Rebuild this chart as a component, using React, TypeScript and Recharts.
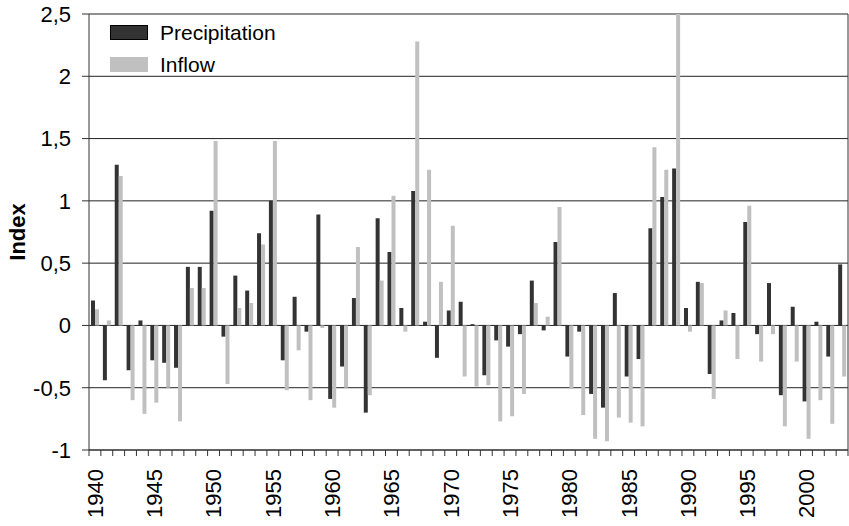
import { Bar, BarChart, CartesianGrid, Legend, XAxis, YAxis } from "recharts";

const WIDTH = 849;
const HEIGHT = 526;
const LEFT = 89;
const RIGHT = 1;
const FONT = '"Liberation Sans", Arial, sans-serif';

const YEARS = [
  1940, 1941, 1942, 1943, 1944, 1945, 1946, 1947, 1948, 1949,
  1950, 1951, 1952, 1953, 1954, 1955, 1956, 1957, 1958, 1959,
  1960, 1961, 1962, 1963, 1964, 1965, 1966, 1967, 1968, 1969,
  1970, 1971, 1972, 1973, 1974, 1975, 1976, 1977, 1978, 1979,
  1980, 1981, 1982, 1983, 1984, 1985, 1986, 1987, 1988, 1989,
  1990, 1991, 1992, 1993, 1994, 1995, 1996, 1997, 1998, 1999,
  2000, 2001, 2002, 2003,
];

const PRECIPITATION = [
  0.2, -0.44, 1.29, -0.36, 0.04, -0.28, -0.3, -0.34, 0.47, 0.47,
  0.92, -0.09, 0.4, 0.28, 0.74, 1.0, -0.28, 0.23, -0.05, 0.89,
  -0.59, -0.33, 0.22, -0.7, 0.86, 0.59, 0.14, 1.08, 0.03, -0.26,
  0.12, 0.19, 0.01, -0.4, -0.12, -0.17, -0.07, 0.36, -0.04, 0.67,
  -0.25, -0.05, -0.55, -0.66, 0.26, -0.41, -0.27, 0.78, 1.03, 1.26,
  0.14, 0.35, -0.39, 0.04, 0.1, 0.83, -0.07, 0.34, -0.56, 0.15,
  -0.61, 0.03, -0.25, 0.49,
];

const INFLOW = [
  0.13, 0.04, 1.2, -0.6, -0.71, -0.62, -0.5, -0.77, 0.3, 0.3,
  1.48, -0.47, 0.14, 0.18, 0.65, 1.48, -0.52, -0.2, -0.6, -0.02,
  -0.66, -0.5, 0.63, -0.56, 0.36, 1.04, -0.05, 2.28, 1.25, 0.35,
  0.8, -0.41, -0.49, -0.48, -0.77, -0.73, -0.55, 0.18, 0.07, 0.95,
  -0.51, -0.72, -0.91, -0.93, -0.74, -0.78, -0.81, 1.43, 1.25, 2.5,
  -0.05, 0.34, -0.59, 0.12, -0.27, 0.96, -0.29, -0.07, -0.81, -0.29,
  -0.91, -0.6, -0.79, -0.41,
];

const Y_TICKS = [-1, -0.5, 0, 0.5, 1, 1.5, 2, 2.5];

const SERIES = [
  { key: "precipitation", name: "Precipitation", color: "#333333" },
  { key: "inflow", name: "Inflow", color: "#c0c0c0" },
];

const data = YEARS.map((year, i) => ({
  year,
  precipitation: PRECIPITATION[i],
  inflow: INFLOW[i],
}));

const BAND = (WIDTH - LEFT - RIGHT) / YEARS.length;

function YearTick(props: any) {
  const { x, y, payload, index } = props;
  const year = Number(payload.value);
  const half = BAND / 2;
  const ly = y + 19;
  return (
    <g>
      <line x1={x - half} x2={x - half} y1={y} y2={y + 6} stroke="#333" />
      {index === YEARS.length - 1 && (
        <line x1={x + half} x2={x + half} y1={y} y2={y + 6} stroke="#333" />
      )}
      {year % 5 === 0 && (
        <text
          x={x}
          y={ly}
          dy="0.36em"
          textAnchor="end"
          transform={`rotate(-90 ${x} ${ly})`}
          fontSize={22}
          fontFamily={FONT}
          fill="#000"
        >
          {year}
        </text>
      )}
    </g>
  );
}

function IndexLabel(props: any) {
  const vb = props.viewBox;
  const cx = vb.x + 17;
  const cy = vb.y + vb.height / 2;
  return (
    <text
      x={cx}
      y={cy}
      textAnchor="middle"
      dominantBaseline="central"
      transform={`rotate(-90 ${cx} ${cy})`}
      fontSize={22}
      fontWeight="bold"
      fontFamily={FONT}
      fill="#000"
    >
      Index
    </text>
  );
}

function LegendBox() {
  return (
    <div style={{ fontFamily: FONT, fontSize: 21, color: "#000" }}>
      {SERIES.map((s, i) => (
        <div
          key={s.key}
          style={{ display: "flex", alignItems: "center", height: 31.5 }}
        >
          <span
            style={{
              display: "inline-block",
              width: 38,
              height: 15,
              boxSizing: "border-box",
              background: s.color,
              border: i === 0 ? "1px solid #000" : "none",
            }}
          />
          <span style={{ marginLeft: 12, lineHeight: 1 }}>{s.name}</span>
        </div>
      ))}
    </div>
  );
}

export default function App() {
  return (
    <div
      style={{
        position: "absolute",
        left: 0,
        top: 0,
        width: WIDTH,
        height: HEIGHT,
        background: "#fff",
        fontFamily: FONT,
      }}
    >
      <BarChart
        width={WIDTH}
        height={HEIGHT}
        data={data}
        margin={{ top: 14, right: 0, bottom: 0, left: 0 }}
        barGap={0}
        barCategoryGap="17%"
      >
        <CartesianGrid vertical={false} stroke="#222" />
        <XAxis
          dataKey="year"
          height={76}
          interval={0}
          tickLine={false}
          tickSize={0}
          tickMargin={0}
          tick={<YearTick />}
          axisLine={{ stroke: "#333" }}
        />
        <YAxis
          width={LEFT}
          domain={[-1, 2.5]}
          ticks={Y_TICKS}
          allowDataOverflow
          tickSize={7}
          tickMargin={11}
          tickLine={{ stroke: "#333" }}
          axisLine={{ stroke: "#333" }}
          tick={{ fill: "#000", fontSize: 22, fontFamily: FONT }}
          tickFormatter={(v: number) => String(v).replace(".", ",")}
          label={<IndexLabel />}
        />
        <YAxis
          yAxisId="right"
          orientation="right"
          width={RIGHT}
          domain={[0, 1]}
          tick={false}
          tickLine={false}
          axisLine={{ stroke: "#333" }}
        />
        <Legend
          layout="vertical"
          align="center"
          verticalAlign="middle"
          content={<LegendBox />}
          wrapperStyle={{ left: 110, top: 17, width: 200, height: 63 }}
        />
        {SERIES.map((s) => (
          <Bar
            key={s.key}
            dataKey={s.key}
            name={s.name}
            fill={s.color}
            isAnimationActive={false}
          />
        ))}
      </BarChart>
    </div>
  );
}
